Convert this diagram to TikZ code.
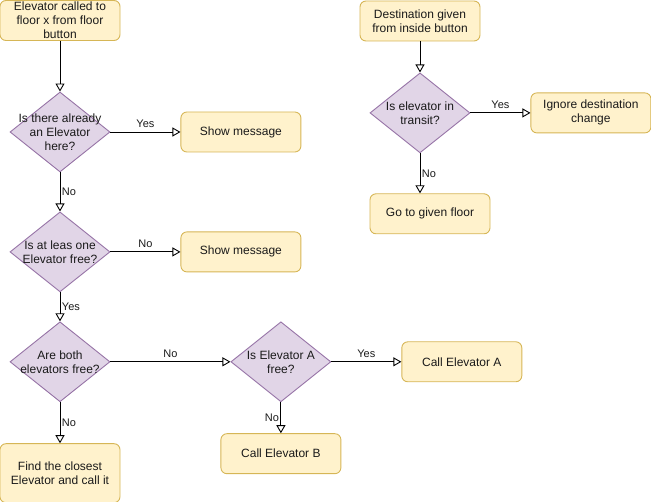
\documentclass[tikz,border=0pt]{standalone}
\usepackage{fontspec}
\setmainfont{Liberation Sans}
\usepackage{tikz}
\usetikzlibrary{arrows.meta,positioning,shapes.geometric}
\definecolor{boxfill}{HTML}{FFF2CC}
\definecolor{boxline}{HTML}{D6B656}
\definecolor{decfill}{HTML}{E1D5E7}
\definecolor{decline}{HTML}{9673A6}
\definecolor{ink}{HTML}{1A1A1A}

\begin{document}
\begin{tikzpicture}[x=1pt,y=-1pt,
  box/.style={draw=boxline,fill=boxfill,rounded corners=6pt,align=center,line width=0.9pt,
    font=\fontsize{12}{14}\selectfont,text=ink,minimum width=120pt,minimum height=40pt,inner sep=1pt},
  dec/.style={diamond,draw=decline,fill=decfill,line width=0.9pt,minimum width=100pt,minimum height=80pt,inner sep=0pt},
  dtxt/.style={font=\fontsize{12}{14}\selectfont,text=ink,align=center,inner sep=0pt},
  lbl/.style={font=\fontsize{11}{13}\selectfont,text=ink,inner sep=1.5pt},
  arr/.style={-{Triangle[open,length=8pt,width=9pt]},draw=black,line width=0.9pt}]
\useasboundingbox (0,0) rectangle (651,502);
% outside call
\node[box] (call) at (60,20.5) {Elevator called to\\floor x from floor\\button};
\node[dec,label={[dtxt]center:Is there already\\an Elevator\\here?}] (here) at (60,132) {};
\node[box,right=70pt of here] (msga) {Show message};
\node[dec,below=39pt of here,label={[dtxt]center:Is at leas one\\Elevator free?}] (free) {};
\node[box,right=70pt of free] (msgb) {Show message};
\node[dec,below=29pt of free,label={[dtxt]center:Are both\\elevators free?}] (both) {};
\node[box,below=41pt of both,minimum height=59pt] (near) {Find the closest\\Elevator and call it};
\node[dec,right=120pt of both,label={[dtxt]center:Is Elevator A\\free?}] (isa) {};
\node[box,right=70pt of isa] (cala) {Call Elevator A};
\node[box,below=31pt of isa] (calb) {Call Elevator B};
% inside button
\node[box] (dest) at (420,21) {Destination given\\from inside button};
\node[dec,below=31pt of dest,label={[dtxt]center:Is elevator in\\transit?}] (trans) {};
\node[box,right=60pt of trans] (ign) {Ignore destination\\change};
\node[box,below=40pt of trans,xshift=10pt] (goto) {Go to given floor};
\draw[arr] (call) -- (here);
\draw[arr] (here) -- node[lbl,above=2pt] {Yes} (msga);
\draw[arr] (here) -- node[lbl,right] {No} (free);
\draw[arr] (free) -- node[lbl,above=2pt] {No} (msgb);
\draw[arr] (free) -- node[lbl,right] {Yes} (both);
\draw[arr] (both) -- node[lbl,right] {No} (near);
\draw[arr] (both) -- node[lbl,above=2pt] {No} (isa);
\draw[arr] (isa) -- node[lbl,above=2pt] {Yes} (cala);
\draw[arr] (isa) -- node[lbl,left] {No} (calb);
\draw[arr] (dest) -- (trans);
\draw[arr] (trans) -- node[lbl,above=2pt] {Yes} (ign);
\draw[arr] (trans.south) -- node[lbl,right] {No} (trans.south |- goto.north);
\end{tikzpicture}
\end{document}
